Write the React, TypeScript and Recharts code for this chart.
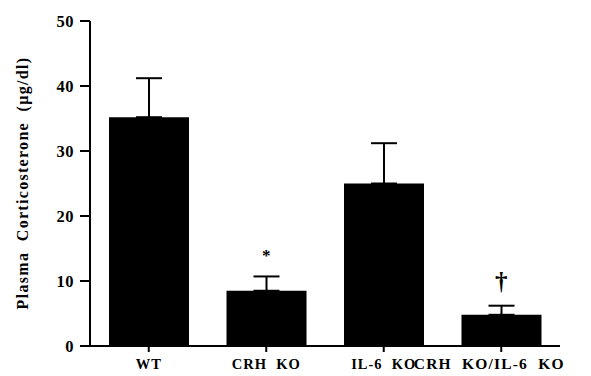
import React from "react";
import {
  Bar,
  ComposedChart,
  Customized,
  ErrorBar,
  Scatter,
  XAxis,
  YAxis,
} from "recharts";

const groups = ["WT", "CRH  KO", "IL-6  KO", "CRH  KO/IL-6  KO"];
const means = [35.2, 8.5, 25.0, 4.8];
const sems = [6.0, 2.2, 6.2, 1.4];
const marks = ["", "*", "", "†"];
const yTicks = [0, 10, 20, 30, 40, 50];
const yTitle = "Plasma  Corticosterone  (µg/dl)";

const data = groups.map((g, i) => ({
  group: g,
  mean: means[i],
  err: [0, sems[i]],
  top: means[i] + sems[i],
  mark: marks[i],
}));

const FONT = '"Liberation Serif", "Times New Roman", serif';

const txt = (size: number, ls: number): React.CSSProperties => ({
  fontFamily: FONT,
  fontWeight: 700,
  fontSize: size,
  letterSpacing: ls,
  whiteSpace: "pre",
  fill: "#000",
});

const XTick = (props: any) => {
  const { x, y, payload, index } = props;
  const last = index === groups.length - 1;
  return (
    <text
      x={last ? x - 12 : x}
      y={y + 15}
      textAnchor="middle"
      style={last ? txt(15.5, 1.2) : txt(14.5, 1)}
    >
      {payload.value}
    </text>
  );
};

const YTick = (props: any) => {
  const { x, y, payload } = props;
  return (
    <text x={x} y={y + 5.5} textAnchor="end" style={txt(16.5, 0.5)}>
      {payload.value}
    </text>
  );
};

const MarkShape = (props: any) => {
  const { cx, cy, payload } = props;
  if (!payload.mark) return <g />;
  const dagger = payload.mark === "†";
  return (
    <text
      x={cx}
      y={dagger ? cy - 16 : cy - 15}
      textAnchor="middle"
      style={txt(dagger ? 25 : 17, 0)}
    >
      {payload.mark}
    </text>
  );
};

const YTitle = () => (
  <text
    x={28}
    y={183}
    transform="rotate(-90 28 183)"
    textAnchor="middle"
    style={txt(16, 1.3)}
  >
    {yTitle}
  </text>
);

export default function App() {
  return (
    <div style={{ position: "absolute", left: 0, top: 0, background: "#fff" }}>
      <ComposedChart
        width={591}
        height={376}
        data={data}
        margin={{ top: 21, right: 31, bottom: 0, left: 0 }}
      >
        <XAxis
          dataKey="group"
          height={30}
          stroke="#000"
          strokeWidth={2}
          tickSize={6}
          tick={<XTick />}
          interval={0}
        />
        <YAxis
          width={90}
          domain={[0, 50]}
          ticks={yTicks}
          stroke="#000"
          strokeWidth={2}
          tickSize={10}
          tickMargin={6}
          tick={<YTick />}
        />
        <Bar dataKey="mean" fill="#000" barSize={80} isAnimationActive={false}>
          <ErrorBar
            dataKey="err"
            direction="y"
            width={13}
            stroke="#000"
            strokeWidth={2}
            isAnimationActive={false}
          />
        </Bar>
        <Scatter
          dataKey="top"
          shape={<MarkShape />}
          isAnimationActive={false}
          legendType="none"
        />
        <Customized component={YTitle} />
      </ComposedChart>
    </div>
  );
}
